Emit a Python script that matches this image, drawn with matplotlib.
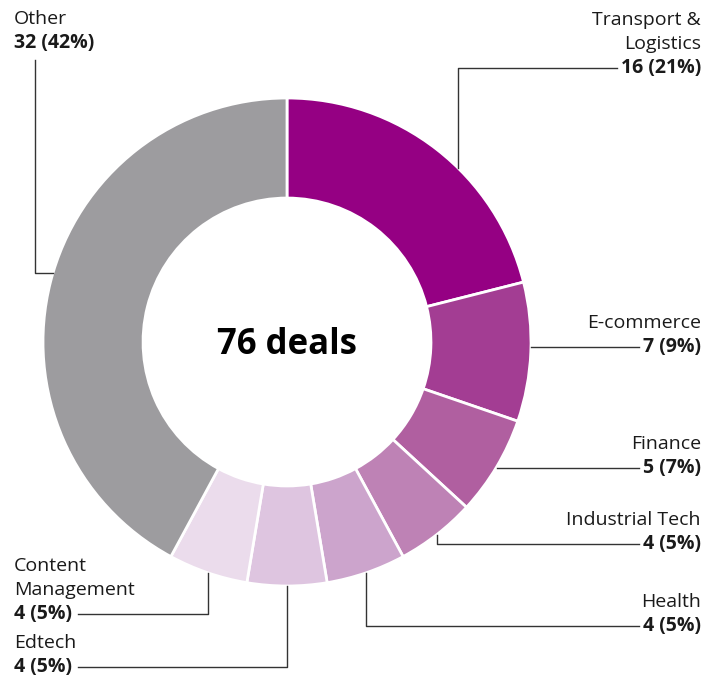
import matplotlib.pyplot as plt
import numpy as np

plt.rcParams['font.family'] = ['Open Sans', 'DejaVu Sans']

# Data
sectors = ["Transport &\nLogistics", "E-commerce", "Finance", "Industrial Tech",
           "Health", "Edtech", "Content\nManagement", "Other"]
deals = [16, 7, 5, 4, 4, 4, 4, 32]
colors = ["#950083", "#a33d93", "#b05fa0", "#be82b5",
          "#cca4cc", "#dec5e0", "#ebdcec", "#9d9c9f"]
center_text = "76 deals"

W, H = 719, 676
cx, cy, R = 287, H - 342, 244
hole = 0.59

fig = plt.figure(figsize=(W / 100, H / 100), dpi=100)
ax = fig.add_axes([0, 0, 1, 1])

wedges, _ = ax.pie(deals, colors=colors, startangle=90, counterclock=False,
                   center=(cx, cy), radius=R,
                   wedgeprops=dict(width=R * (1 - hole), edgecolor='white', linewidth=2))
# pie resets limits, so set them afterwards
ax.set_xlim(0, W)
ax.set_ylim(0, H)
ax.set_aspect('equal')
ax.axis('off')
ax.text(cx, H - 345, center_text, ha='center', va='center', fontsize=25, fontweight='bold')

total = sum(deals)

# label layout: (side, text x, y of name top line (px from top), anchor angle override)
layout = {
    "Transport &\nLogistics": ("right", 701, 20, 45.5),
    "E-commerce": ("right", 701, 323, None),
    "Finance": ("right", 701, 444, None),
    "Industrial Tech": ("right", 701, 520, None),
    "Health": ("right", 701, 602, None),
    "Edtech": ("left", 14, 643, None),
    "Content\nManagement": ("left", 14, 566, None),
    "Other": ("left", 14, 19, 163.5),
}
line_h = 24

fig.canvas.draw()
renderer = fig.canvas.get_renderer()
inv = ax.transData.inverted()

for w, name, n in zip(wedges, sectors, deals):
    side, tx, ty, ang = layout[name]
    if ang is None:
        ang = (w.theta1 + w.theta2) / 2
    a = np.deg2rad(ang)
    px, py = cx + R * np.cos(a), cy + R * np.sin(a)
    ha = 'right' if side == "right" else 'left'
    lines = name.split("\n")
    for i, ln in enumerate(lines):
        ax.text(tx, H - (ty + i * line_h), ln, ha=ha, va='center', fontsize=14, color='#1a1a1a')
    vy = H - (ty + len(lines) * line_h)
    val = ax.text(tx, vy, f"{n} ({round(100 * n / total)}%)", ha=ha, va='center',
                  fontsize=14, fontweight='bold', color='#1a1a1a')
    bb = val.get_window_extent(renderer)
    x0 = inv.transform((bb.x0, bb.y0))[0]
    x1 = inv.transform((bb.x1, bb.y0))[0]
    if name == "Other":
        ax.plot([35, 35, px], [H - 60, py, py], color='#333333', lw=1)
        continue
    if side == "right":
        end = x0 - 4
    else:
        end = x1 + 6
    if abs(vy - py) < 8:
        ax.plot([px, end], [vy, vy], color='#333333', lw=1)
    else:
        ax.plot([px, px, end], [py, vy, vy], color='#333333', lw=1)

fig.savefig("out.png", dpi=100)
